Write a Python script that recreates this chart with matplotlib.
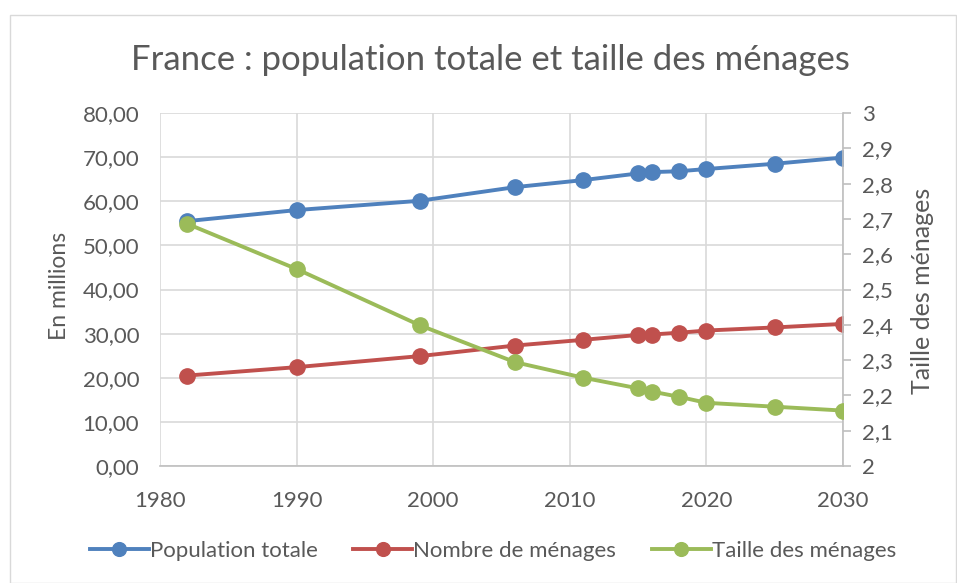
import matplotlib
matplotlib.use("Agg")
import matplotlib.pyplot as plt
from matplotlib.ticker import FuncFormatter, MultipleLocator
from matplotlib.patches import Rectangle

plt.rcParams['font.family'] = ['Lato', 'DejaVu Sans']

years = [1982, 1990, 1999, 2006, 2011, 2015, 2016, 2018, 2020, 2025, 2030]
population = [55.5, 58.0, 60.1, 63.2, 64.8, 66.3, 66.6, 66.8, 67.3, 68.5, 69.9]
menages = [20.5, 22.4, 24.9, 27.3, 28.6, 29.7, 29.8, 30.2, 30.7, 31.4, 32.2]
taille = [2.686, 2.558, 2.399, 2.294, 2.250, 2.220, 2.211, 2.196, 2.179, 2.168, 2.157]

c_blue = '#4F81BD'
c_red = '#C0504D'
c_green = '#9BBB59'
txt = '#595959'
grid = '#D9D9D9'

W, H = 957, 583
fig = plt.figure(figsize=(W/100, H/100), dpi=100)
fig.patches.append(Rectangle((9.5/W, 0), 1 - 9.5/W - 0.001, 1 - 14.5/H, transform=fig.transFigure,
                             fill=False, edgecolor='#D9D9D9', linewidth=1))
L, R, T, B = 160, 843, 113, 466
ax = fig.add_axes([L/W, 1 - B/H, (R-L)/W, (B-T)/H])
ax2 = ax.twinx()

ax.set_xlim(1980, 2030)
ax.set_ylim(0, 80)
ax2.set_ylim(2, 3)
ax.xaxis.set_major_locator(MultipleLocator(10))
ax.yaxis.set_major_locator(MultipleLocator(10))
ax2.yaxis.set_major_locator(MultipleLocator(0.1))
ax.yaxis.set_major_formatter(FuncFormatter(lambda v, p: f"{v:.2f}".replace('.', ',')))
ax2.yaxis.set_major_formatter(FuncFormatter(lambda v, p: (f"{v:.1f}".rstrip('0').rstrip('.')).replace('.', ',')))

ax.grid(True, color=grid, linewidth=1.2)
ax.set_axisbelow(True)
for s in ['top', 'right', 'left']:
    ax.spines[s].set_visible(False)
ax.spines['bottom'].set_color('#BFBFBF')
ax.spines['bottom'].set_linewidth(1.2)
for s in ['top', 'left', 'bottom']:
    ax2.spines[s].set_visible(False)
ax2.spines['right'].set_color('#BFBFBF')
ax2.spines['right'].set_linewidth(1.2)

ax.tick_params(axis='y', length=0, labelsize=16, labelcolor=txt, pad=15)
ax.tick_params(axis='x', length=0, labelsize=16, labelcolor=txt, pad=18)
ax2.tick_params(axis='y', length=6, width=1.2, color='#BFBFBF', labelsize=16, labelcolor=txt, pad=8)

l1, = ax.plot(years, population, color=c_blue, linewidth=2.8, marker='o', markersize=11, label='Population totale', zorder=3)
l2, = ax.plot(years, menages, color=c_red, linewidth=2.8, marker='o', markersize=11, label='Nombre de ménages', zorder=3)
l3, = ax2.plot(years, taille, color=c_green, linewidth=2.8, marker='o', markersize=11, label='Taille des ménages', zorder=3)

fig.text(59/W, 1 - 286/H, 'En millions', rotation=90, ha='center', va='center', fontsize=16.5, color=txt)
fig.text(923/W, 1 - 291/H, 'Taille des ménages', rotation=90, ha='center', va='center', fontsize=18, color=txt)

fig.text(490/W, 1 - 60/H, 'France : population totale et taille des ménages',
         ha='center', va='center', fontsize=25, color=txt)

fig.legend(handles=[l1, l2, l3], loc='center', bbox_to_anchor=(493/W, 1 - 551/H), ncol=3,
           frameon=False, fontsize=16, labelcolor=txt, handlelength=2.65, handletextpad=0.05,
           columnspacing=1.6, markerscale=0.9)

fig.savefig('out.png', dpi=100)
